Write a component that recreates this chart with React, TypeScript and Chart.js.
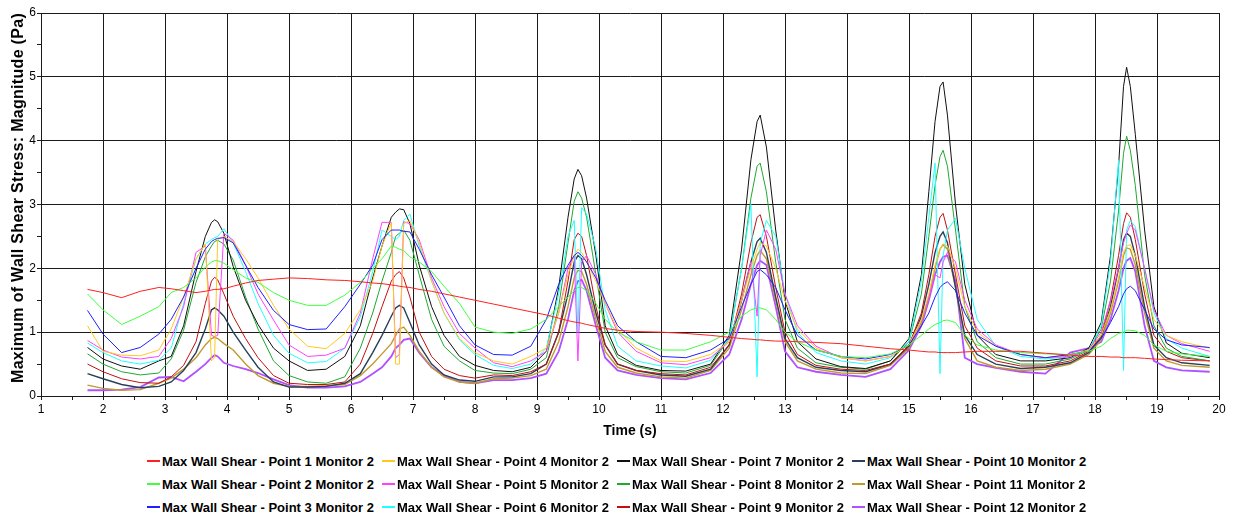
import React, { useEffect, useRef } from "react";
import { Chart, registerables } from "chart.js";

Chart.register(...registerables);

// Shared time axis (s)
const time = [
  1.75, 2.0, 2.3, 2.6, 2.9, 3.1, 3.3, 3.5, 3.65, 3.75, 3.8, 3.85, 3.95, 4.1, 4.3, 4.5, 4.75, 5.0, 5.3, 5.6, 5.9,
  6.15, 6.35, 6.5, 6.65, 6.72, 6.78, 6.85, 6.95, 7.1, 7.3, 7.5, 7.75, 8.0, 8.3, 8.6, 8.9,
  9.15, 9.35, 9.5, 9.6, 9.66, 9.72, 9.8, 9.95, 10.1, 10.3, 10.6, 11.0, 11.4, 11.8,
  12.1, 12.3, 12.45, 12.55, 12.6, 12.7, 12.85, 13.0, 13.2, 13.5, 13.9, 14.3, 14.7,
  15.0, 15.2, 15.32, 15.42, 15.5, 15.55, 15.62, 15.75, 15.9, 16.1, 16.4, 16.8, 17.2, 17.6,
  17.9, 18.1, 18.25, 18.38, 18.46, 18.51, 18.57, 18.65, 18.8, 18.95, 19.15, 19.4, 19.85,
];

const point1 = [
  1.67, 1.62, 1.54, 1.64, 1.70, 1.68, 1.65, 1.62, 1.64, 1.66, 1.67, 1.67, 1.68, 1.72, 1.77, 1.81, 1.83, 1.85, 1.84, 1.82, 1.81,
  1.79, 1.77, 1.76, 1.74, 1.73, 1.72, 1.71, 1.70, 1.67, 1.64, 1.60, 1.55, 1.50, 1.44, 1.38, 1.32,
  1.27, 1.22, 1.18, 1.16, 1.15, 1.14, 1.12, 1.09, 1.06, 1.03, 1.01, 1.00, 0.98, 0.95,
  0.92, 0.90, 0.89, 0.88, 0.88, 0.87, 0.86, 0.86, 0.85, 0.84, 0.82, 0.78, 0.74,
  0.72, 0.70, 0.69, 0.69, 0.68, 0.68, 0.68, 0.68, 0.69, 0.70, 0.70, 0.70, 0.67, 0.64,
  0.62, 0.62, 0.61, 0.61, 0.60, 0.60, 0.60, 0.60, 0.59, 0.58, 0.57, 0.56, 0.55,
];
const point2 = [
  1.60, 1.35, 1.12, 1.25, 1.40, 1.62, 1.70, 1.85, 2.02, 2.10, 2.12, 2.12, 2.08, 1.98, 1.85, 1.78, 1.62, 1.50, 1.42, 1.42, 1.58,
  1.78, 2.0, 2.15, 2.35, 2.33, 2.3, 2.28, 2.18, 2.1, 1.95, 1.72, 1.45, 1.08, 1.0, 0.98, 1.05,
  1.2, 1.4, 1.55, 1.65, 1.7, 1.7, 1.65, 1.45, 1.2, 1.0, 0.85, 0.72, 0.72, 0.85,
  1.0, 1.25, 1.35, 1.38, 1.38, 1.35, 1.2, 1.0, 0.85, 0.72, 0.62, 0.6, 0.66,
  0.8, 0.95, 1.05, 1.12, 1.15, 1.18, 1.19, 1.15, 0.95, 0.8, 0.72, 0.68, 0.66, 0.65,
  0.7, 0.78, 0.9, 0.98, 1.0, 1.03, 1.03, 1.02, 0.95, 0.8, 0.7, 0.66, 0.62,
];
const point3 = [
  1.34, 0.97, 0.68, 0.76, 0.97, 1.2, 1.55, 2.0, 2.3, 2.42, 2.45, 2.47, 2.48, 2.40, 2.05, 1.70, 1.34, 1.12, 1.04, 1.05, 1.40,
  1.75, 2.05, 2.45, 2.60, 2.60, 2.60, 2.58, 2.57, 2.3, 1.9, 1.55, 1.1, 0.8, 0.65, 0.64, 0.78,
  1.2, 1.75, 2.05, 2.2, 2.25, 2.2, 2.1, 1.85, 1.5, 1.1, 0.85, 0.62, 0.6, 0.72,
  0.9, 1.4, 1.75, 1.95, 1.98, 1.9, 1.7, 1.35, 0.95, 0.72, 0.62, 0.58, 0.65,
  0.8, 1.1, 1.3, 1.55, 1.7, 1.75, 1.79, 1.65, 1.3, 0.95, 0.78, 0.65, 0.6, 0.65,
  0.7, 0.9, 1.15, 1.4, 1.6, 1.68, 1.72, 1.65, 1.35, 1.05, 0.88, 0.8, 0.76,
];
const point4 = [
  1.10, 0.70, 0.64, 0.63, 0.72, 1.05, 1.55, 2.15, 2.38, 0.55, 0.6, 2.45, 2.5, 2.42, 2.15, 1.85, 1.42, 1.05, 0.78, 0.74, 0.98,
  1.35, 1.8, 2.35, 2.72, 0.5, 0.5, 2.7, 2.75, 2.4, 1.8, 1.3, 0.9, 0.68, 0.55, 0.5, 0.62,
  0.75, 1.3, 1.9, 2.2, 2.3, 2.25, 2.1, 1.8, 1.45, 1.05, 0.75, 0.55, 0.54, 0.65,
  0.85, 1.5, 2.0, 2.3, 2.4, 2.35, 2.0, 1.5, 1.05, 0.75, 0.6, 0.55, 0.62,
  0.8, 1.2, 1.6, 2.05, 2.3, 2.38, 2.35, 2.0, 1.4, 1.0, 0.78, 0.65, 0.6, 0.65,
  0.72, 0.95, 1.35, 1.85, 2.25, 2.35, 2.37, 2.2, 1.7, 1.2, 0.95, 0.85, 0.75,
];
const point5 = [
  0.87, 0.72, 0.61, 0.58, 0.62, 0.9, 1.4, 2.25, 2.35, 0.95, 0.93, 0.95, 2.55, 2.44, 2.05, 1.6, 1.19, 0.80, 0.62, 0.64, 0.75,
  1.3, 2.15, 2.72, 2.72, 0.6, 0.65, 2.73, 2.7, 2.45, 1.85, 1.4, 0.98, 0.75, 0.52, 0.46, 0.55,
  0.7, 1.3, 2.0, 2.2, 0.55, 2.1, 2.2, 1.9, 1.45, 1.0, 0.7, 0.52, 0.49, 0.6,
  0.85, 1.5, 2.1, 1.25, 2.2, 2.6, 2.3, 1.6, 1.1, 0.78, 0.6, 0.55, 0.62,
  0.8, 1.2, 1.55, 1.9, 1.85, 2.1, 2.25, 2.1, 1.5, 1.05, 0.8, 0.65, 0.6, 0.62,
  0.72, 1.0, 1.5, 2.0, 2.4, 2.55, 2.68, 2.6, 2.0, 1.35, 0.95, 0.82, 0.7,
];
const point6 = [
  0.83, 0.68, 0.55, 0.50, 0.56, 0.75, 1.45, 2.15, 2.38, 2.45, 2.48, 2.5, 2.62, 2.4, 1.95, 1.45, 0.95, 0.67, 0.52, 0.54, 0.75,
  1.24, 1.95, 2.6, 2.5, 2.45, 2.5, 2.75, 2.85, 2.35, 1.8, 1.3, 0.88, 0.65, 0.48, 0.43, 0.5,
  0.75, 1.6, 2.5, 2.75, 1.0, 2.95, 2.85, 2.3, 1.35, 0.78, 0.55, 0.47, 0.44, 0.56,
  0.9, 2.0, 3.0, 0.3, 2.4, 2.75, 2.5, 1.6, 1.0, 0.68, 0.55, 0.5, 0.6,
  0.85, 1.8, 2.8, 3.65, 0.35, 2.2, 2.6, 2.78, 2.0, 1.2, 0.78, 0.62, 0.58, 0.62,
  0.72, 1.1, 2.1, 3.7, 0.4, 2.6, 2.75, 2.65, 2.0, 1.3, 0.9, 0.75, 0.62,
];
const point7 = [
  0.76, 0.58, 0.47, 0.42, 0.55, 0.62, 1.1, 1.95, 2.5, 2.72, 2.76, 2.73, 2.55, 2.03, 1.5, 1.12, 0.75, 0.55, 0.4, 0.42, 0.62,
  1.1, 1.85, 2.35, 2.8, 2.88, 2.93, 2.92, 2.7, 2.05, 1.4, 0.95, 0.62, 0.48, 0.4, 0.38, 0.45,
  0.7, 1.7, 2.8, 3.4, 3.55, 3.45, 3.1, 2.2, 1.1, 0.65, 0.48, 0.4, 0.39, 0.5,
  0.95, 2.3, 3.7, 4.3, 4.4, 3.9, 2.6, 1.5, 0.85, 0.58, 0.46, 0.43, 0.55,
  0.9, 1.9, 3.2, 4.3, 4.85, 4.92, 4.4, 3.0, 1.75, 0.95, 0.65, 0.55, 0.55, 0.6,
  0.75, 1.15, 2.2, 3.6, 4.85, 5.15, 4.85, 4.1, 2.6, 1.4, 0.83, 0.67, 0.6,
];
const point8 = [
  0.66, 0.50, 0.38, 0.33, 0.36, 0.58, 1.03, 1.78, 2.18, 2.35, 2.42, 2.44, 2.38, 2.13, 1.55, 1.05, 0.55, 0.32, 0.22, 0.2, 0.3,
  0.75, 1.3, 1.8, 2.25, 2.5, 2.55, 2.6, 2.44, 1.9, 1.2, 0.78, 0.55, 0.4, 0.36, 0.35, 0.42,
  0.6, 1.4, 2.4, 3.05, 3.2, 3.1, 2.8, 1.9, 1.0, 0.6, 0.46, 0.38, 0.36, 0.48,
  0.9, 2.0, 3.1, 3.6, 3.65, 3.2, 2.1, 1.2, 0.75, 0.52, 0.45, 0.42, 0.55,
  0.85, 1.6, 2.5, 3.3, 3.75, 3.85, 3.6, 2.6, 1.4, 0.85, 0.6, 0.5, 0.5, 0.58,
  0.72, 1.05, 1.8, 2.9, 3.8, 4.07, 3.85, 3.3, 1.9, 1.1, 0.75, 0.62, 0.55,
];
const point9 = [
  0.50, 0.38, 0.27, 0.21, 0.2, 0.3, 0.48, 0.85, 1.45, 1.8, 1.86, 1.82, 1.6, 1.25, 0.9, 0.6, 0.32, 0.2, 0.18, 0.18, 0.22,
  0.5, 0.98, 1.4, 1.8, 1.9, 1.95, 1.85, 1.55, 1.0, 0.62, 0.42, 0.32, 0.28, 0.33, 0.32, 0.38,
  0.5, 1.0, 1.8, 2.45, 2.55, 2.5, 2.2, 1.4, 0.8, 0.5, 0.4, 0.35, 0.33, 0.45,
  0.8, 1.6, 2.4, 2.8, 2.84, 2.5, 1.7, 1.0, 0.65, 0.48, 0.42, 0.4, 0.5,
  0.8, 1.3, 1.9, 2.5, 2.8, 2.86, 2.6, 1.9, 1.1, 0.75, 0.55, 0.47, 0.47, 0.55,
  0.7, 0.95, 1.5, 2.2, 2.7, 2.87, 2.8, 2.45, 1.6, 0.95, 0.7, 0.6, 0.55,
];
const point10 = [
  0.35, 0.27, 0.18, 0.13, 0.15, 0.22, 0.4, 0.68, 1.05, 1.35, 1.38, 1.35, 1.25, 1.0, 0.72, 0.45, 0.22, 0.14, 0.14, 0.15, 0.2,
  0.35, 0.68, 0.95, 1.25, 1.38, 1.42, 1.38, 1.15, 0.8, 0.5, 0.33, 0.25, 0.23, 0.3, 0.3, 0.35,
  0.5, 1.0, 1.6, 2.1, 2.2, 2.15, 1.9, 1.3, 0.8, 0.5, 0.4, 0.33, 0.31, 0.42,
  0.8, 1.5, 2.1, 2.42, 2.47, 2.25, 1.55, 0.9, 0.6, 0.45, 0.4, 0.38, 0.5,
  0.78, 1.25, 1.75, 2.25, 2.5, 2.57, 2.4, 1.7, 0.95, 0.65, 0.5, 0.43, 0.45, 0.52,
  0.68, 0.92, 1.4, 2.0, 2.45, 2.55, 2.5, 2.2, 1.4, 0.8, 0.6, 0.52, 0.48,
];
const point11 = [
  0.17, 0.12, 0.09, 0.1, 0.2, 0.28, 0.42, 0.6, 0.8, 0.9, 0.92, 0.9, 0.82, 0.72, 0.5, 0.32, 0.2, 0.15, 0.15, 0.16, 0.18,
  0.32, 0.5, 0.66, 0.82, 0.95, 1.05, 1.08, 0.95, 0.7, 0.45, 0.3, 0.22, 0.2, 0.27, 0.28, 0.32,
  0.42, 0.85, 1.4, 1.85, 1.97, 1.95, 1.75, 1.2, 0.7, 0.45, 0.36, 0.3, 0.28, 0.4,
  0.75, 1.35, 1.9, 2.2, 2.28, 2.15, 1.5, 0.85, 0.55, 0.42, 0.36, 0.35, 0.48,
  0.75, 1.15, 1.55, 2.0, 2.3, 2.37, 2.3, 1.7, 0.9, 0.55, 0.45, 0.4, 0.42, 0.5,
  0.65, 0.88, 1.3, 1.8, 2.2, 2.32, 2.3, 2.05, 1.3, 0.75, 0.55, 0.48, 0.45,
];
const point12 = [
  0.09, 0.09, 0.1, 0.14, 0.29, 0.3, 0.23, 0.38, 0.5, 0.6, 0.64, 0.62, 0.52, 0.47, 0.42, 0.36, 0.26, 0.17, 0.13, 0.13, 0.15,
  0.22, 0.35, 0.45, 0.62, 0.75, 0.8, 0.88, 0.9, 0.68, 0.45, 0.32, 0.22, 0.2, 0.25, 0.25, 0.28,
  0.35, 0.7, 1.2, 1.65, 1.8, 1.82, 1.65, 1.1, 0.6, 0.4, 0.33, 0.28, 0.26, 0.36,
  0.65, 1.2, 1.75, 2.05, 2.12, 2.05, 1.4, 0.7, 0.45, 0.38, 0.33, 0.3, 0.42,
  0.72, 1.1, 1.5, 1.9, 2.1, 2.18, 2.2, 1.8, 0.6, 0.5, 0.44, 0.38, 0.35, 0.68,
  0.75, 0.85, 1.2, 1.65, 2.0, 2.12, 2.16, 1.95, 1.1, 0.55, 0.45, 0.4, 0.38,
];

const seriesNames = [
  "Max Wall Shear - Point 1 Monitor 2",
  "Max Wall Shear - Point 2 Monitor 2",
  "Max Wall Shear - Point 3 Monitor 2",
  "Max Wall Shear - Point 4 Monitor 2",
  "Max Wall Shear - Point 5 Monitor 2",
  "Max Wall Shear - Point 6 Monitor 2",
  "Max Wall Shear - Point 7 Monitor 2",
  "Max Wall Shear - Point 8 Monitor 2",
  "Max Wall Shear - Point 9 Monitor 2",
  "Max Wall Shear - Point 10 Monitor 2",
  "Max Wall Shear - Point 11 Monitor 2",
  "Max Wall Shear - Point 12 Monitor 2",
];
const seriesColors = [
  "#ff2020", "#40ff40", "#2020ff", "#ffc820", "#ff40ff", "#20ffff",
  "#101010", "#20a830", "#c01010", "#28405c", "#c09a30", "#b050ff",
];
const seriesWidths = [1, 1, 1, 1, 1, 1, 1, 1, 1, 1.4, 1.4, 1.8];

const xTitle = "Time (s)";
const yTitle = "Maximum of Wall Shear Stress: Magnitude (Pa)";

const FONT = '"Liberation Sans", Arial, sans-serif';

export default function App() {
  const ref = useRef<HTMLCanvasElement>(null);

  useEffect(() => {
    const all = [point1, point2, point3, point4, point5, point6, point7, point8, point9, point10, point11, point12];
    const isInt = (v: number) => Math.abs(v - Math.round(v)) < 1e-6;
    const chart = new Chart(ref.current as HTMLCanvasElement, {
      type: "line",
      data: {
        datasets: all.map((vals, i) => ({
          label: seriesNames[i],
          data: time.map((t, j) => ({ x: t, y: vals[j] })),
          borderColor: seriesColors[i],
          backgroundColor: seriesColors[i],
          borderWidth: seriesWidths[i],
          pointRadius: 0,
          tension: 0,
          fill: false,
        })),
      },
      options: {
        responsive: false,
        animation: false,
        devicePixelRatio: 1,
        layout: { padding: { left: 0, top: 13, right: 14, bottom: 0 } },
        plugins: { legend: { display: false }, tooltip: { enabled: false } },
        scales: {
          x: {
            type: "linear",
            min: 1,
            max: 20,
            afterFit: (s: any) => { s.height = 44; },
            ticks: {
              stepSize: 0.5,
              autoSkip: false,
              maxRotation: 0,
              padding: 2,
              color: "#000",
              font: { family: FONT, size: 12 },
              callback: (v: any) => (isInt(Number(v)) ? String(v) : ""),
            },
            grid: {
              color: (c: any) => (isInt(c.tick?.value ?? 0.5) ? "#1a1a1a" : "rgba(0,0,0,0)"),
              tickColor: "#1a1a1a",
              tickLength: 4,
              lineWidth: 1,
            },
            border: { color: "#1a1a1a" },
          },
          y: {
            type: "linear",
            min: 0,
            max: 6,
            afterFit: (s: any) => { s.width = 41; },
            ticks: {
              stepSize: 0.5,
              autoSkip: false,
              padding: 1,
              color: "#000",
              font: { family: FONT, size: 12 },
              callback: (v: any) => (isInt(Number(v)) ? String(v) : ""),
            },
            grid: {
              color: (c: any) => (isInt(c.tick?.value ?? 0.5) ? "#1a1a1a" : "rgba(0,0,0,0)"),
              tickColor: "#1a1a1a",
              tickLength: 4,
              lineWidth: 1,
            },
            border: { color: "#1a1a1a" },
          },
        },
      },
    });
    return () => chart.destroy();
  }, []);

  const colX = [147, 382, 617, 852];
  const rowY = [461, 484, 507];

  return (
    <div style={{ position: "absolute", left: 0, top: 0, width: 1233, height: 514, background: "#fff", fontFamily: FONT }}>
      <canvas ref={ref} width={1233} height={440} style={{ position: "absolute", left: 0, top: 0, display: "block" }} />
      <div
        style={{
          position: "absolute", left: 18, top: 198, transform: "translate(-50%, -50%) rotate(-90deg)",
          whiteSpace: "nowrap", fontWeight: "bold", fontSize: 16, letterSpacing: 0.3, color: "#000",
        }}
      >
        {yTitle}
      </div>
      <div
        style={{
          position: "absolute", left: 630, top: 430, transform: "translate(-50%, -50%)",
          whiteSpace: "nowrap", fontWeight: "bold", fontSize: 14, color: "#000",
        }}
      >
        {xTitle}
      </div>
      {seriesNames.map((name, i) => {
        const col = Math.floor(i / 3);
        const row = i % 3;
        return (
          <div key={name} style={{ position: "absolute", left: colX[col], top: rowY[row] - 9, height: 18, display: "flex", alignItems: "center", whiteSpace: "nowrap" }}>
            <span style={{ display: "inline-block", width: 13, height: 2, background: seriesColors[i], marginRight: 2 }} />
            <span style={{ fontSize: 13, fontWeight: "bold", color: "#000" }}>{name}</span>
          </div>
        );
      })}
    </div>
  );
}
